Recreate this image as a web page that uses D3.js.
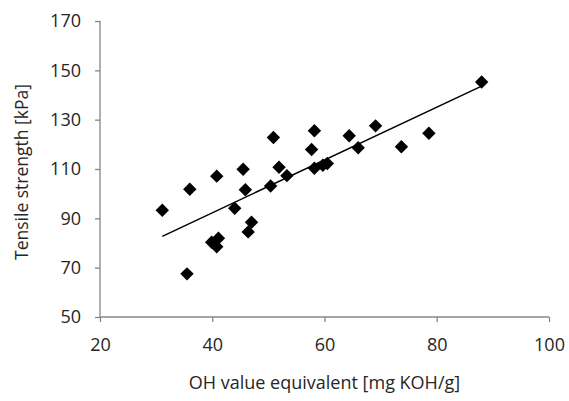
<!DOCTYPE html>
<html>
<head>
<meta charset="utf-8">
<script src="https://cdn.jsdelivr.net/npm/d3@7"></script>
<style>
  body { margin: 0; background: #fff; }
  text { font-family: "Open Sans", sans-serif; fill: #262626; }
</style>
</head>
<body>
<script>
var margin = {top: 21, right: 20, bottom: 84, left: 100},
    width = 449,
    height = 296

// OH value equivalent [mg KOH/g]
var ohValue = [31.1, 35.5, 36.0, 39.9, 41.1, 40.8, 40.8, 44.0, 45.5, 45.9,
               46.4, 47.0, 50.4, 50.9, 51.9, 53.3, 57.7, 58.2, 58.2, 59.7,
               60.5, 64.4, 66.0, 69.1, 73.7, 78.6, 88.0]
// Tensile strength [kPa]
var tensile = [93.3, 67.5, 101.8, 80.3, 81.9, 78.5, 107.1, 94.1, 109.9, 101.6,
               84.5, 88.4, 103.1, 122.8, 110.7, 107.3, 117.9, 125.5, 110.3, 111.5,
               112.2, 123.5, 118.6, 127.5, 119.0, 124.5, 145.3]

// linear trend line end points
var trendX = [31.1, 87.8]
var trendY = [82.7, 143.4]

var xTicks = [20, 40, 60, 80, 100]
var yTicks = [50, 70, 90, 110, 130, 150, 170]

var data = ohValue.map(function(d, i) { return {x: d, y: tensile[i]}; })
var trend = trendX.map(function(d, i) { return {x: d, y: trendY[i]}; })

var x = d3.scaleLinear().domain([20, 100]).range([0, width])
var y = d3.scaleLinear().domain([50, 170]).range([height, 0])

var svg = d3.select("body").append("svg")
    .attr("width", 569)
    .attr("height", 401)
  .append("g")
    .attr("transform", "translate(" + margin.left + "," + margin.top + ")")

// axes
var yAxis = svg.append("g")
    .call(d3.axisLeft(y).tickValues(yTicks).tickSize(5).tickPadding(14))
var xAxis = svg.append("g")
    .attr("transform", "translate(0," + height + ")")
    .call(d3.axisBottom(x).tickValues(xTicks).tickSize(5).tickPadding(16))

svg.selectAll(".domain, .tick line")
    .attr("stroke", "#868686")
    .attr("stroke-width", 1.3)
svg.selectAll(".domain").attr("d", null)
yAxis.append("line").attr("y1", 0).attr("y2", height).attr("stroke", "#868686").attr("stroke-width", 1.3)
xAxis.append("line").attr("x1", 0).attr("x2", width).attr("stroke", "#868686").attr("stroke-width", 1.3)
svg.selectAll(".tick text")
    .style("font-family", "'Open Sans', sans-serif")
    .style("font-size", "18px")
    .attr("fill", "#262626")

// trend line
var line = d3.line()
    .x(function(d) { return x(d.x); })
    .y(function(d) { return y(d.y); })

svg.append("path")
  .attr("d", line(trend))
  .attr("stroke", "#000")
  .attr("stroke-width", 1.5)
  .attr("fill", "none")

// diamond markers
var diamond = d3.symbol().type(d3.symbolSquare).size(90)
svg.selectAll(".pt")
  .data(data)
  .enter().append("path")
    .attr("class", "pt")
    .attr("d", diamond)
    .attr("transform", function(d) { return "translate(" + x(d.x) + "," + y(d.y) + ") rotate(45)"; })
    .attr("fill", "#000")

// axis titles
svg.append("text")
    .attr("x", width / 2)
    .attr("y", height + 72)
    .attr("text-anchor", "middle")
    .style("font-size", "18px")
    .text("OH value equivalent [mg KOH/g]")

svg.append("text")
    .attr("transform", "translate(" + (28 - margin.left) + "," + (172 - margin.top) + ") rotate(-90)")
    .attr("text-anchor", "middle")
    .style("font-size", "17.5px")
    .text("Tensile strength [kPa]")
</script>
</body>
</html>
